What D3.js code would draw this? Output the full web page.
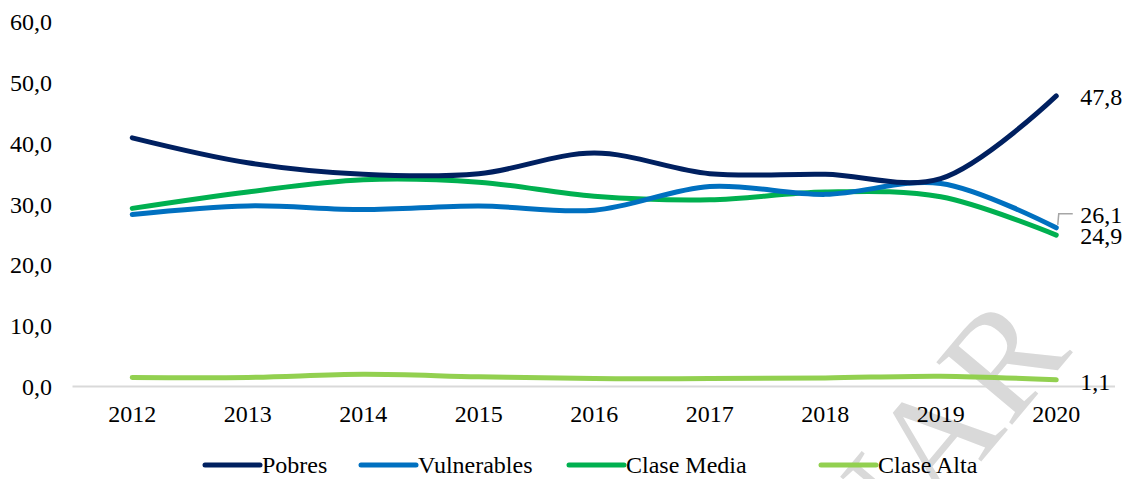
<!DOCTYPE html>
<html>
<head>
<meta charset="utf-8">
<script src="https://cdn.jsdelivr.net/npm/d3@7"></script>
<style>
  body { margin: 0; background: #fff; }
  text { font-family: "Liberation Serif", "Times New Roman", serif; fill: #000; }
</style>
</head>
<body>
<div id="chart"></div>
<script>
// datos
let years = ["2012", "2013", "2014", "2015", "2016", "2017", "2018", "2019", "2020"]
let pobres = [40.9, 36.8, 34.9, 35.0, 38.4, 35.0, 34.9, 34.2, 47.8]
let vulnerables = [28.3, 29.7, 29.1, 29.7, 29.0, 32.9, 31.6, 33.4, 26.1]
let claseMedia = [29.3, 32.0, 34.0, 33.6, 31.3, 30.7, 32.0, 31.2, 24.9]
let claseAlta = [1.5, 1.5, 2.0, 1.6, 1.3, 1.3, 1.4, 1.7, 1.1]
let yTicks = [0, 10, 20, 30, 40, 50, 60]
let seriesNames = ["Pobres", "Vulnerables", "Clase Media", "Clase Alta"]
let seriesColors = ["#002060", "#0070C0", "#00B050", "#92D050"]
let seriesValues = [pobres, vulnerables, claseMedia, claseAlta]

let width = 1125, height = 479
let svg = d3.select("#chart")
    .append("svg")
    .attr("width", width)
    .attr("height", height)

let x = d3.scaleBand()
    .domain(years)
    .range([74.5, 1114])
let y = d3.scaleLinear()
    .domain([0, 60])
    .range([386.5, 21.7])
let cx = (d) => x(d) + x.bandwidth() / 2
let fmt = (v) => d3.format(".1f")(v).replace(".", ",")

// marca de agua
svg.append("text")
    .attr("transform", "translate(1073,352) rotate(-50)")
    .attr("text-anchor", "end")
    .attr("font-size", 150)
    .style("fill", "#d9d9d9")
    .text("PRELIMINAR")

// eje x (linea base)
svg.append("line")
    .attr("x1", x.range()[0] - 2)
    .attr("x2", x.range()[1] + 1)
    .attr("y1", y(0))
    .attr("y2", y(0))
    .attr("stroke", "#d9d9d9")
    .attr("stroke-width", 2)

// etiquetas eje y
svg.append("g")
    .selectAll("text")
    .data(yTicks)
    .enter()
    .append("text")
    .attr("x", 52)
    .attr("y", (d) => y(d))
    .attr("dy", "0.35em")
    .attr("text-anchor", "end")
    .attr("font-size", 24)
    .text((d) => fmt(d))

// etiquetas eje x
svg.append("g")
    .selectAll("text")
    .data(years)
    .enter()
    .append("text")
    .attr("x", (d) => cx(d))
    .attr("y", 422)
    .attr("text-anchor", "middle")
    .attr("font-size", 24)
    .text((d) => d)

// lineas
let line = d3.line()
    .x((d, i) => cx(years[i]))
    .y((d) => y(d))
    .curve(d3.curveCatmullRom.alpha(0.5))

svg.append("g")
    .selectAll("path")
    .data(seriesValues.slice().reverse())
    .enter()
    .append("path")
    .attr("d", (d) => line(d))
    .attr("fill", "none")
    .attr("stroke", (d, i) => seriesColors.slice().reverse()[i])
    .attr("stroke-width", 5)
    .attr("stroke-linecap", "round")
    .attr("stroke-linejoin", "round")

// etiquetas del ultimo valor
let last = years.length - 1
let labelX = cx(years[last]) + 24
let labelOffsets = [1, -13, 0, 2]
svg.append("g")
    .selectAll("text")
    .data(seriesValues)
    .enter()
    .append("text")
    .attr("x", labelX)
    .attr("y", (d, i) => y(d[last]) + labelOffsets[i])
    .attr("dy", "0.35em")
    .attr("font-size", 24)
    .text((d) => fmt(d[last]))

// guia de la etiqueta 26,1
let vx = cx(years[last]) + 1.5, vy = y(vulnerables[last])
svg.append("path")
    .attr("d", `M${vx},${vy - 3} L${vx + 1},${vy - 14} H${vx + 15}`)
    .attr("fill", "none")
    .attr("stroke", "#a6a6a6")
    .attr("stroke-width", 1.5)

// leyenda
let legendX = [205, 361, 569, 821]
let legend = svg.append("g")
seriesNames.forEach((name, i) => {
    legend.append("line")
        .attr("x1", legendX[i])
        .attr("x2", legendX[i] + 55)
        .attr("y1", 465)
        .attr("y2", 465)
        .attr("stroke", seriesColors[i])
        .attr("stroke-width", 5)
        .attr("stroke-linecap", "round")
    legend.append("text")
        .attr("x", legendX[i] + 57)
        .attr("y", 473)
        .attr("font-size", 24)
        .text(name)
})
</script>
</body>
</html>
